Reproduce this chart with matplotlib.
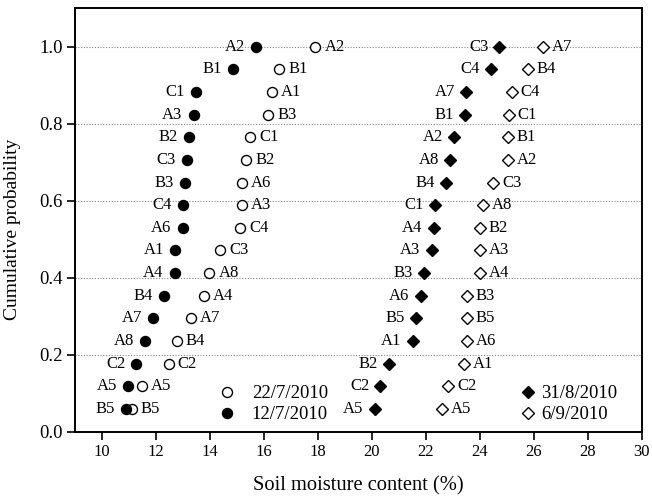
import matplotlib
matplotlib.use("Agg")
import matplotlib.pyplot as plt
from matplotlib.lines import Line2D

plt.rcParams['font.family'] = ['Liberation Serif', 'DejaVu Serif']

# sites ordered from lowest to highest moisture (rank 1..17)
sites_0712 = ["B5", "A5", "C2", "A8", "A7", "B4", "A4", "A1", "A6", "C4", "B3", "C3", "B2", "A3", "C1", "B1", "A2"]
moist_0712 = [10.88, 10.98, 11.28, 11.60, 11.90, 12.30, 12.70, 12.71, 12.99, 13.01, 13.09, 13.14, 13.23, 13.40, 13.48, 14.87, 15.71]

sites_2207 = ["B5", "A5", "C2", "B4", "A7", "A4", "A8", "C3", "C4", "A3", "A6", "B2", "C1", "B3", "A1", "B1", "A2"]
moist_2207 = [11.10, 11.47, 12.47, 12.78, 13.30, 13.79, 13.98, 14.37, 15.12, 15.18, 15.18, 15.34, 15.49, 16.17, 16.30, 16.58, 17.91]

sites_3108 = ["A5", "C2", "B2", "A1", "B5", "A6", "B3", "A3", "A4", "C1", "B4", "A8", "A2", "B1", "A7", "C4", "C3"]
moist_3108 = [20.11, 20.32, 20.64, 21.51, 21.64, 21.81, 21.93, 22.22, 22.30, 22.34, 22.74, 22.90, 23.06, 23.46, 23.49, 24.41, 24.73]

sites_0609 = ["A5", "C2", "A1", "A6", "B5", "B3", "A4", "A3", "B2", "A8", "C3", "A2", "B1", "C1", "C4", "B4", "A7"]
moist_0609 = [22.59, 22.84, 23.42, 23.52, 23.52, 23.52, 24.01, 24.01, 24.01, 24.12, 24.49, 25.04, 25.04, 25.07, 25.19, 25.78, 26.35]

n = len(moist_0712)
prob = [(i + 1) / n for i in range(n)]

fig = plt.figure(figsize=(6.52, 4.98), dpi=100)
ax = fig.add_axes([0.115, 0.1335, 0.869, 0.8498])

for y in [0.2, 0.4, 0.6, 0.8, 1.0]:
    ax.axhline(y, color='#888888', linestyle=(0, (1, 1.5)), linewidth=0.8, zorder=0)

ms = 7.2
ds = 6.6
ax.plot(moist_0712, prob, 'o', color='black', markersize=ms, linestyle='none', zorder=3)
ax.plot(moist_2207, prob, 'o', markerfacecolor='white', markeredgecolor='black',
        markeredgewidth=1.0, markersize=ms, linestyle='none', zorder=2)
ax.plot(moist_3108, prob, 'D', color='black', markersize=ds, linestyle='none', zorder=3)
ax.plot(moist_0609, prob, 'D', markerfacecolor='white', markeredgecolor='black',
        markeredgewidth=1.0, markersize=ds, linestyle='none', zorder=2)

fs = 12
# filled markers: label on the left, open markers: label on the right
for names, xs in [(sites_0712, moist_0712), (sites_3108, moist_3108)]:
    for nm, x, y in zip(names, xs, prob):
        ax.annotate(nm, (x, y), xytext=(-8, 0), textcoords='offset points',
                    ha='right', va='center', fontsize=fs)
for names, xs in [(sites_2207, moist_2207), (sites_0609, moist_0609)]:
    for nm, x, y in zip(names, xs, prob):
        ax.annotate(nm, (x, y), xytext=(6.5, 0), textcoords='offset points',
                    ha='left', va='center', fontsize=fs)

h1 = [Line2D([], [], marker='o', linestyle='none', markerfacecolor='white',
             markeredgecolor='black', markersize=ms),
      Line2D([], [], marker='o', linestyle='none', color='black', markersize=ms)]
leg1 = ax.legend(h1, ["22/7/2010", "12/7/2010"], loc='lower left',
                 bbox_to_anchor=(0.236, 0.0), frameon=False, fontsize=13.5,
                 handletextpad=0.85, labelspacing=0.2, handlelength=1.0,
                 borderaxespad=0.05)
ax.add_artist(leg1)
h2 = [Line2D([], [], marker='D', linestyle='none', color='black', markersize=ds),
      Line2D([], [], marker='D', linestyle='none', markerfacecolor='white',
             markeredgecolor='black', markersize=ds)]
ax.legend(h2, ["31/8/2010", "6/9/2010"], loc='lower left',
          bbox_to_anchor=(0.768, 0.0), frameon=False, fontsize=13.5,
          handletextpad=0.2, labelspacing=0.2, handlelength=1.0,
          borderaxespad=0.05)

ax.set_xlim(9, 30)
ax.set_ylim(0, 1.1)
ax.set_xticks(range(10, 31, 2))
ax.set_yticks([0.0, 0.2, 0.4, 0.6, 0.8, 1.0])
ax.set_yticklabels(["0.0", "0.2", "0.4", "0.6", "0.8", "1.0"])
ax.tick_params(direction='out', length=6, width=1.2, pad=3)
ax.tick_params(axis='x', labelsize=12)
ax.tick_params(axis='y', labelsize=13.5)
for s in ax.spines.values():
    s.set_linewidth(1.4)

ax.set_xlabel("Soil moisture content (%)", fontsize=14.8, labelpad=12)
ax.set_ylabel("Cumulative probability", fontsize=14)
ax.yaxis.set_label_coords(-0.095, 0.478)

fig.savefig("out.png", dpi=100)
